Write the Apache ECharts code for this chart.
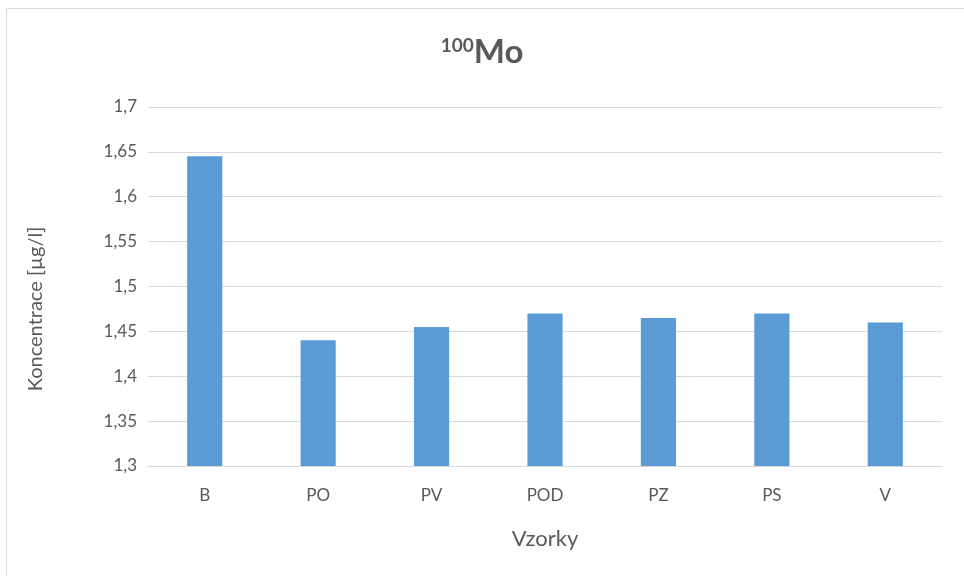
<!DOCTYPE html>
<html><head><meta charset="utf-8">
<script src="https://cdn.jsdelivr.net/npm/echarts@6/dist/echarts.min.js"></script>
<style>html,body{margin:0;padding:0;background:#fff}#c{width:964px;height:576px}</style>
</head><body><div id="c"></div>
<script>
const categories = ['B','PO','PV','POD','PZ','PS','V'];
const values = [1.645, 1.44, 1.455, 1.47, 1.465, 1.47, 1.46];
const yTicks = ['1,3','1,35','1,4','1,45','1,5','1,55','1,6','1,65','1,7'];
const yName = 'Koncentrace [µg/l]';
const xName = 'Vzorky';
const font = 'Lato, "Open Sans", sans-serif';
const chart = echarts.init(document.getElementById('c'));
chart.setOption({
  animation: false,
  textStyle: {fontFamily: font},
  graphic: [
    {type:'rect', shape:{x:6.5,y:8.5,width:1000,height:600}, style:{fill:'none', stroke:'#d9d9d9', lineWidth:1}},
    {type:'text', x:36, y:309, rotation: Math.PI/2,
     style:{text: yName, fill:'#595959', font: '20px ' + font, textAlign:'center', textVerticalAlign:'middle'}}
  ],
  title: {
    text: '{sup|100}{main|Mo}', left: 'center', top: 31,
    textStyle: {rich: {
      sup: {fontSize: 19, fontWeight: 'bold', color: '#595959', fontFamily: font, verticalAlign: 'top', padding:[0,0,13,0]},
      main: {fontSize: 33, fontWeight: 'bold', color: '#595959', fontFamily: font}
    }}
  },
  grid: {left: 148, right: 22, top: 107, bottom: 110},
  xAxis: {
    type: 'category', data: categories,
    name: xName, nameLocation: 'middle', nameGap: 62,
    nameTextStyle: {fontSize: 22, color: '#595959', fontFamily: font},
    axisLine: {lineStyle: {color: '#d9d9d9'}},
    axisTick: {show: false},
    axisLabel: {fontSize: 17, color: '#595959', margin: 21, fontFamily: font}
  },
  yAxis: {
    type: 'value', min: 1.3, max: 1.7, interval: 0.05,
    axisLine: {show: false}, axisTick: {show: false},
    splitLine: {lineStyle: {color: '#d9d9d9'}},
    axisLabel: {fontSize: 17, color: '#595959', margin: 11, fontFamily: font,
      formatter: function(v){ const i = Math.round((v-1.3)/0.05); return yTicks[i]; }}
  },
  series: [{type: 'bar', data: values, barWidth: '31%', itemStyle: {color: '#5b9bd5'}}]
});
</script></body></html>
